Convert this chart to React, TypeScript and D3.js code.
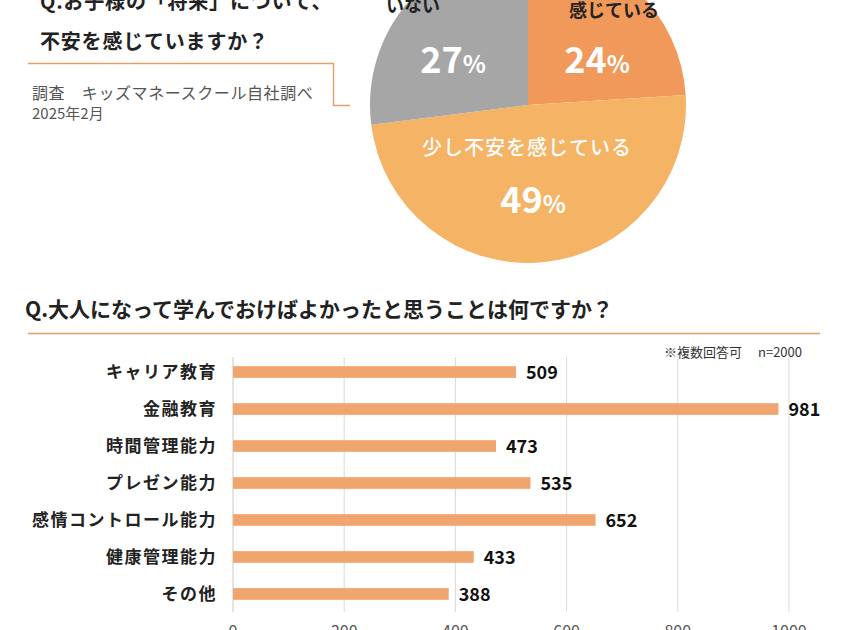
import React from "react";
import * as d3 from "d3";

const pieLabels = ["とても不安を感じている", "少し不安を感じている", "不安を感じていない"];
const pieValues = [24, 49, 27];
const pieColors = ["#F0995B", "#F5B365", "#A6A6A6"];

const barCategories = ["キャリア教育", "金融教育", "時間管理能力", "プレゼン能力", "感情コントロール能力", "健康管理能力", "その他"];
const barValues = [509, 981, 473, 535, 652, 433, 388];
const xTicks = [0, 200, 400, 600, 800, 1000];

const FONT = "'Noto Sans CJK JP', 'Noto Sans', sans-serif";

export default function App() {
  const W = 852, H = 630;
  const cx = 528, cy = 105, r = 158;
  const pie = d3.pie<number>().sort(null).value((d) => d)(pieValues);
  const arc = d3.arc<d3.PieArcDatum<number>>().innerRadius(0).outerRadius(r);

  const x = d3.scaleLinear().domain([0, 1000]).range([233, 789]);
  const y = d3.scaleBand().domain(barCategories).range([354, 612]).paddingInner(0.685).paddingOuter(0.33);

  return (
    <svg width={W} height={H} style={{ position: "absolute", left: 0, top: 0, background: "#fff" }} fontFamily={FONT}>
      <rect width={W} height={H} fill="#fff" />
      {/* Left header */}
      <text x={40} y={9} fontSize={20} fontWeight={700} fill="#222" letterSpacing={0.8}>Q.お子様の「将来」について、</text>
      <text x={40} y={49} fontSize={20} fontWeight={700} fill="#222" letterSpacing={0.8}>不安を感じていますか？</text>
      <path d="M28,63.5 H333.5 V105.5 H350" fill="none" stroke="#E3A066" strokeWidth={1.4} />
      <text x={32} y={99} fontSize={16} fill="#555" letterSpacing={0.6}>調査　キッズマネースクール自社調べ</text>
      <text x={32} y={119} fontSize={15} fill="#555">2025年2月</text>

      {/* Pie */}
      <g transform={`translate(${cx},${cy})`}>
        {pie.map((d, i) => (
          <path key={i} d={arc(d) || ""} fill={pieColors[i]} />
        ))}
      </g>
      <text x={413} y={-16} fontSize={18} fontWeight={700} fill="#222" textAnchor="middle">{pieLabels[2].slice(0, 6)}</text>
      <text x={413} y={12} fontSize={18} fontWeight={700} fill="#222" textAnchor="middle">{pieLabels[2].slice(6)}</text>
      <text x={614} y={-10} fontSize={18} fontWeight={700} fill="#222" textAnchor="middle">{pieLabels[0].slice(0, 6)}</text>
      <text x={614} y={17} fontSize={18} fontWeight={700} fill="#222" textAnchor="middle">{pieLabels[0].slice(6)}</text>
      <text x={453} y={73} textAnchor="middle" fill="#fff" fontWeight={700}>
        <tspan fontSize={36}>{pieValues[2]}</tspan><tspan fontSize={24}>%</tspan>
      </text>
      <text x={597} y={73} textAnchor="middle" fill="#fff" fontWeight={700}>
        <tspan fontSize={36}>{pieValues[0]}</tspan><tspan fontSize={24}>%</tspan>
      </text>
      <text x={527} y={155} textAnchor="middle" fill="#fff" fontSize={20} fontWeight={500} letterSpacing={1}>{pieLabels[1]}</text>
      <text x={533} y={213} textAnchor="middle" fill="#fff" fontWeight={700}>
        <tspan fontSize={36}>{pieValues[1]}</tspan><tspan fontSize={24}>%</tspan>
      </text>

      {/* Bar chart header */}
      <text x={25} y={317} fontSize={21} fontWeight={700} fill="#222">Q.大人になって学んでおけばよかったと思うことは何ですか？</text>
      <line x1={28} x2={820} y1={333.5} y2={333.5} stroke="#E3A066" strokeWidth={1.4} />
      <text x={802} y={357} fontSize={13} fill="#333" textAnchor="end">※複数回答可　 n=2000</text>

      {/* grid */}
      {xTicks.map((t) => (
        <g key={t}>
          <line x1={x(t)} x2={x(t)} y1={357} y2={612} stroke={t === 0 ? "#C8C8C8" : "#D9D9D9"} strokeWidth={1} />
          <text x={x(t)} y={637} fontSize={16} fill="#555" textAnchor="middle">{t}</text>
        </g>
      ))}

      {/* bars */}
      {barCategories.map((c, i) => {
        const yy = y(c)!;
        const bh = y.bandwidth();
        return (
          <g key={c}>
            <rect x={x(0)} y={yy} width={x(barValues[i]) - x(0)} height={bh} fill="#F0A46E" />
            <text x={217} y={yy + bh / 2} dy="0.35em" fontSize={17} fontWeight={700} fill="#222" textAnchor="end" letterSpacing={1.5}>{c}</text>
            <text x={x(barValues[i]) + 10} y={yy + bh / 2} dy="0.38em" fontSize={18} fontWeight={700} fill="#111">{barValues[i]}</text>
          </g>
        );
      })}
    </svg>
  );
}
